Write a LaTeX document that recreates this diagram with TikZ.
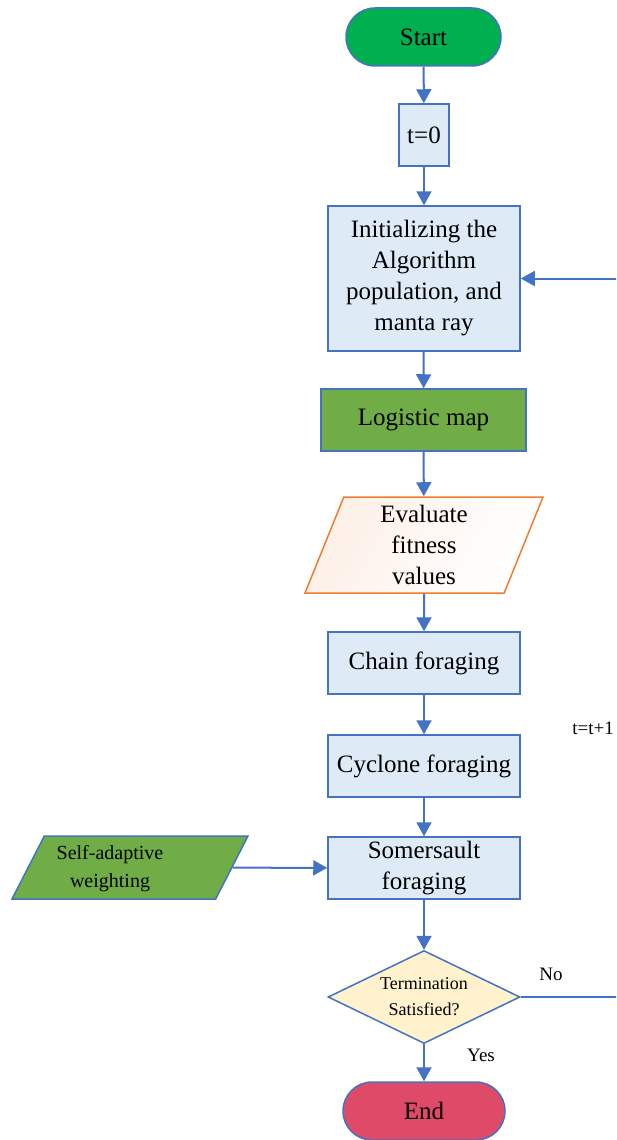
\documentclass[tikz,border=0pt]{standalone}
\usepackage{fontspec}
\setmainfont{Liberation Serif}
\usetikzlibrary{shapes.geometric,shapes.misc,arrows.meta,positioning}
\definecolor{lineblue}{HTML}{4472C4}
\definecolor{boxfill}{HTML}{DEEBF7}
\definecolor{startgreen}{HTML}{00B050}
\definecolor{leafgreen}{HTML}{70AD47}
\definecolor{condfill}{HTML}{FFF2CC}
\definecolor{endred}{HTML}{DE4A68}
\definecolor{evalline}{HTML}{ED7D31}

\begin{document}
\begin{tikzpicture}[x=1pt, y=-1pt,
        box/.style={draw=lineblue, line width=1.5pt, fill=boxfill, align=center,
            inner sep=0pt, font=\fontsize{25}{31}\selectfont},
        term/.style={box, rounded rectangle, minimum width=155pt, minimum height=58pt},
        para/.style={box, trapezium, trapezium stretches body},
        flow/.style={lineblue, line width=2pt, -{Triangle[length=14pt,width=15pt]}},
        lbl/.style={font=\fontsize{19}{23}\selectfont}]
        \useasboundingbox (0,0) rectangle (616,1140);
        \clip (0,0) rectangle (616,1140);
        
        % main column
        \node[term, fill=startgreen] (start) at (423.5,37) {Start};
        \node[box, minimum width=50pt, minimum height=62pt] (tzero) at (424,135) {t=0};
        \node[box, minimum width=192pt, minimum height=145pt] (init) at (424,278.5)
            {Initializing the\\Algorithm\\population, and\\manta ray};
        \node[box, fill=leafgreen, minimum width=205pt, minimum height=62pt] (logmap) at (423.5,420) {Logistic map};
        \node[para, draw=evalline, left color=evalline!12, right color=white, shading angle=60,
            trapezium left angle=64, trapezium right angle=116,
            minimum width=238pt, minimum height=96pt] (evalfit) at (424,545)
            {Evaluate\\fitness\\values};
        \node[box, minimum width=192pt, minimum height=62pt] (chain) at (424,663) {Chain foraging};
        \node[box, minimum width=192pt, minimum height=62pt] (cyclone) at (424,766) {Cyclone foraging};
        \node[box, minimum width=192pt, minimum height=62pt] (somer) at (424,868) {Somersault\\foraging};
        
        % weighting input (text sits left of centre)
        \node[para, fill=leafgreen, font=\fontsize{20}{28}\selectfont,
            trapezium left angle=60, trapezium right angle=120,
            minimum width=236pt, minimum height=63pt] (selfw) at (130,867.5)
            {\kern-40pt\begin{tabular}{@{}c@{}}Self-adaptive\\weighting\end{tabular}};
        
        % termination test
        \node[box, diamond, aspect=2, fill=condfill, font=\fontsize{18}{26}\selectfont,
            minimum width=192pt, minimum height=93pt] (cond) at (424,997) {Termination\\Satisfied?};
        \node[term, fill=endred, minimum width=162pt] (finish) at (424,1111) {End};
        
        \draw[flow] (start) -- (tzero);
        \draw[flow] (tzero) -- (init);
        \draw[flow] (init) -- (logmap);
        \draw[flow] (logmap) -- (evalfit);
        \draw[flow] (evalfit) -- (chain);
        \draw[flow] (chain) -- (cyclone);
        \draw[flow] (cyclone) -- (somer);
        \draw[flow] (selfw) -- (somer);
        \draw[flow] (somer) -- (cond);
        \draw[flow] (cond) -- (finish);
        
        % loop back (runs past the right edge)
        \draw[flow] (cond.east) -- ++(140,0) |- (init.east);
        
        \node[lbl] (nolbl) at (551,974) {No};
        \node[lbl] (yeslbl) at (481,1055) {Yes};
        \node[lbl, anchor=east, inner sep=1pt] (incr) at (615,728) {t=t+1};
    \end{tikzpicture}
\end{document}
